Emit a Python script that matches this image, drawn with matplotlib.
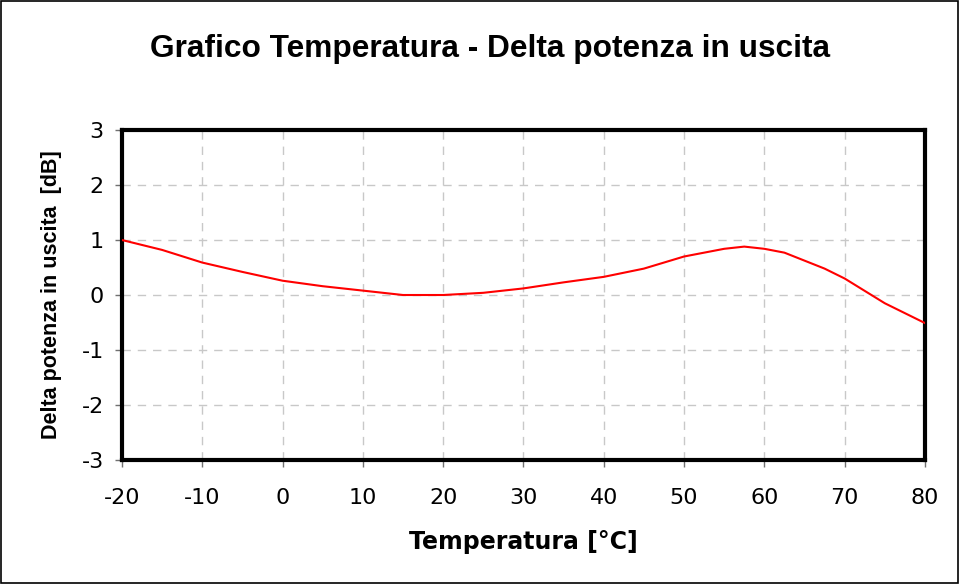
import matplotlib
matplotlib.use("Agg")
import matplotlib.pyplot as plt
from matplotlib.patches import Rectangle

plt.rcParams["axes.unicode_minus"] = False

temperature = [-20, -15, -10, -5, 0, 5, 10, 15, 20, 25, 30, 35, 40, 45, 50, 55, 57.5, 60, 62.5, 67.5, 70, 75, 80]
delta_db = [1.0, 0.82, 0.59, 0.42, 0.26, 0.16, 0.08, 0.0, 0.0, 0.04, 0.12, 0.23, 0.33, 0.48, 0.70, 0.84, 0.88, 0.84, 0.77, 0.48, 0.30, -0.15, -0.51]
xticks = list(range(-20, 81, 10))
yticks = list(range(-3, 4))

fig = plt.figure(figsize=(9.6, 5.84), dpi=100)
fig.patches.append(Rectangle((0.001, 0.001), 0.997, 0.997, transform=fig.transFigure,
                             fill=False, edgecolor="black", linewidth=1.2))
ax = fig.add_axes([0.127, 0.2123, 0.8365, 0.5651])
ax.plot(temperature, delta_db, color="#ff0000", linewidth=1.5, zorder=3)
ax.set_xlim(-20, 80)
ax.set_ylim(-3, 3)
ax.set_xticks(xticks)
ax.set_yticks(yticks)
ax.grid(True, color="#c8c8c8", linestyle=(0, (6, 5)), linewidth=1.0)
for s in ax.spines.values():
    s.set_linewidth(3)
    s.set_color("black")
ax.tick_params(axis="both", direction="out", length=5, width=1, color="#707070",
               labelsize=16)
ax.tick_params(axis="x", pad=15)
ax.tick_params(axis="y", pad=8)
for lbl in ax.get_xticklabels() + ax.get_yticklabels():
    lbl.set_fontfamily("DejaVu Sans")
ax.set_xlabel("Temperatura [°C]", fontsize=17, fontweight="bold", fontfamily="DejaVu Sans", labelpad=16)
ax.set_ylabel("Delta potenza in uscita  [dB]", fontsize=15.5, fontweight="bold",
              fontfamily="Liberation Sans", labelpad=14)
fig.text(0.511, 0.916, "Grafico Temperatura - Delta potenza in uscita", ha="center", va="center",
         fontsize=22.8, fontweight="bold", fontfamily="Liberation Sans")
fig.savefig("out.png", dpi=100)
